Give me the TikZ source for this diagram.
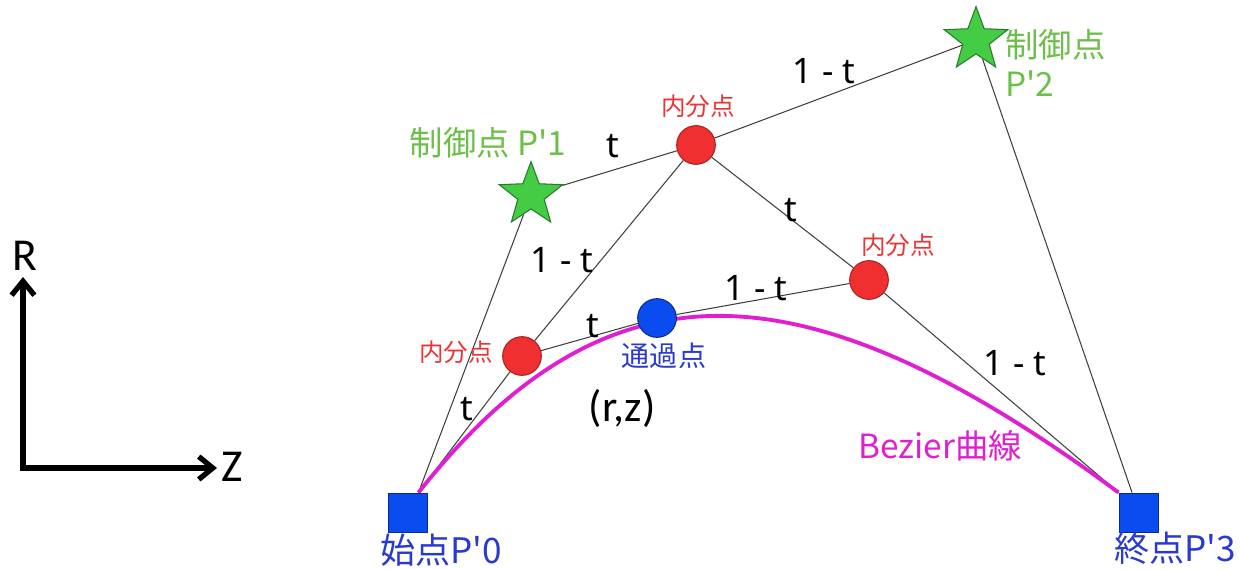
\documentclass[tikz,border=0pt]{standalone}
\usepackage{fontspec}
\setmainfont{Noto Sans}
\newfontfamily\jpfont{Noto Sans CJK JP}
\newfontfamily\calfont{Carlito}
\usepackage{xcolor}
\usetikzlibrary{arrows.meta,shapes.geometric,backgrounds,calc}

\definecolor{ctrlfill}{HTML}{44CC44}
\definecolor{ctrldraw}{HTML}{2A7A2A}
\definecolor{ctrltext}{HTML}{6CC04A}
\definecolor{divfill}{HTML}{F03030}
\definecolor{divdraw}{HTML}{A82020}
\definecolor{divtext}{HTML}{E83535}
\definecolor{endfill}{HTML}{0A4CF0}
\definecolor{enddraw}{HTML}{0A2A90}
\definecolor{endtext}{HTML}{2A3AD0}
\definecolor{bezcol}{HTML}{E020D0}
\definecolor{segcol}{HTML}{404040}

\begin{document}
\begin{tikzpicture}[x=0.02cm,y=-0.02cm,
    ctrl/.style={star,star points=5,star point ratio=2.4,minimum size=38pt,inner sep=0pt,
      fill=ctrlfill,draw=ctrldraw,line width=0.6pt},
    divpt/.style={circle,minimum size=22pt,inner sep=0pt,fill=divfill,draw=divdraw,line width=0.6pt},
    passpt/.style={circle,minimum size=22pt,inner sep=0pt,fill=endfill,draw=enddraw,line width=0.6pt},
    endpt/.style={rectangle,minimum size=22.7pt,inner sep=0pt,fill=endfill,draw=enddraw,line width=0.6pt},
    seg/.style={draw=segcol,line width=0.6pt},
    bez/.style={draw=bezcol,line width=2.2pt},
    ratio/.style={inner sep=0pt,font=\fontsize{20pt}{22pt}\selectfont},
    ctrllbl/.style={inner sep=0pt,text=ctrltext,font=\jpfont\fontsize{19pt}{22pt}\selectfont},
    divlbl/.style={inner sep=0pt,text=divtext,font=\jpfont\fontsize{14pt}{16pt}\selectfont},
    endlbl/.style={inner sep=0pt,text=endtext,font=\jpfont\fontsize{20pt}{22pt}\selectfont},
    axlbl/.style={inner sep=0pt,font=\calfont\fontsize{26pt}{28pt}\selectfont},
    axis/.style={line width=3pt,line join=miter,{Straight Barb[length=8pt,width=13pt]}-{Straight Barb[length=8pt,width=13pt]}}]
\useasboundingbox (0,0) rectangle (1240,568);

% axes
\coordinate (o) at (23,468);
\coordinate (rtip) at (23,277);
\coordinate (ztip) at (217,468);
\node[axlbl] (rlbl) at (25,256) {R};
\node[axlbl] (zlbl) at (232,467) {Z};
\draw[axis] (rtip) -- (o) -- (ztip);

% points
\node[endpt] (p0) at (408,513) {};
\node[endpt] (p3) at (1139,513) {};
\node[ctrl] (p1) at (531,195) {};
\node[ctrl] (p2) at (976,40) {};
\node[divpt] (m12) at (696,145) {};
\node[divpt] (divL) at (522,356) {};
\node[divpt] (divR) at (869,280) {};
\node[passpt] (pass) at (657,318) {};
\coordinate (p0out) at ($(p0.north east)+(-10,0)$);
\coordinate (p3in) at ($(p3.north)+(-7,0)$);

\begin{pgfonlayer}{background}
\draw[seg] (p0out) -- (p1);
\draw[seg] (p1) -- (m12) -- (p2);
\draw[seg] (p2) -- (p3in);
\draw[seg] (p0out) -- (divL) -- (m12);
\draw[seg] (m12) -- (divR) -- (p3.north west);
\draw[seg] (divL) -- (pass) -- (divR);
\draw[bez] (p0out) .. controls (605,257) and (800,257) .. (p3.north west);
\end{pgfonlayer}

% labels
\node[ctrllbl] (p1lbl) at (488,143) {制御点 P'1};
\node[ctrllbl,align=left,anchor=west] (p2lbl) at (1005,63) {制御点\\ P'2};
\node[divlbl] (m12lbl) at (698,106) {内分点};
\node[divlbl] (divRlbl) at (898,245) {内分点};
\node[divlbl] (divLlbl) at (456,352) {内分点};
\node[inner sep=0pt,text=endtext,font=\jpfont\fontsize{16pt}{18pt}\selectfont] (passlbl) at (664,356) {通過点};
\node[inner sep=0pt,font=\calfont\fontsize{25pt}{28pt}\selectfont] (rz) at (622,408) {(r,z)};
\node[endlbl] (p0lbl) at (441,550) {始点P'0};
\node[endlbl] (p3lbl) at (1175,548) {終点P'3};
\node[inner sep=0pt,text=bezcol,font=\jpfont\fontsize{19pt}{22pt}\selectfont] (bezlbl) at (940,446) {Bezier曲線};

\node[ratio] (t1) at (613,146) {t};
\node[ratio] (u1) at (824,71) {1 - t};
\node[ratio] (t2) at (791,210) {t};
\node[ratio] (u2) at (562,260) {1 - t};
\node[ratio] (u3) at (756,288) {1 - t};
\node[ratio] (t3) at (593,326) {t};
\node[ratio] (t4) at (467,409) {t};
\node[ratio] (u4) at (1015,363) {1 - t};
\end{tikzpicture}
\end{document}
